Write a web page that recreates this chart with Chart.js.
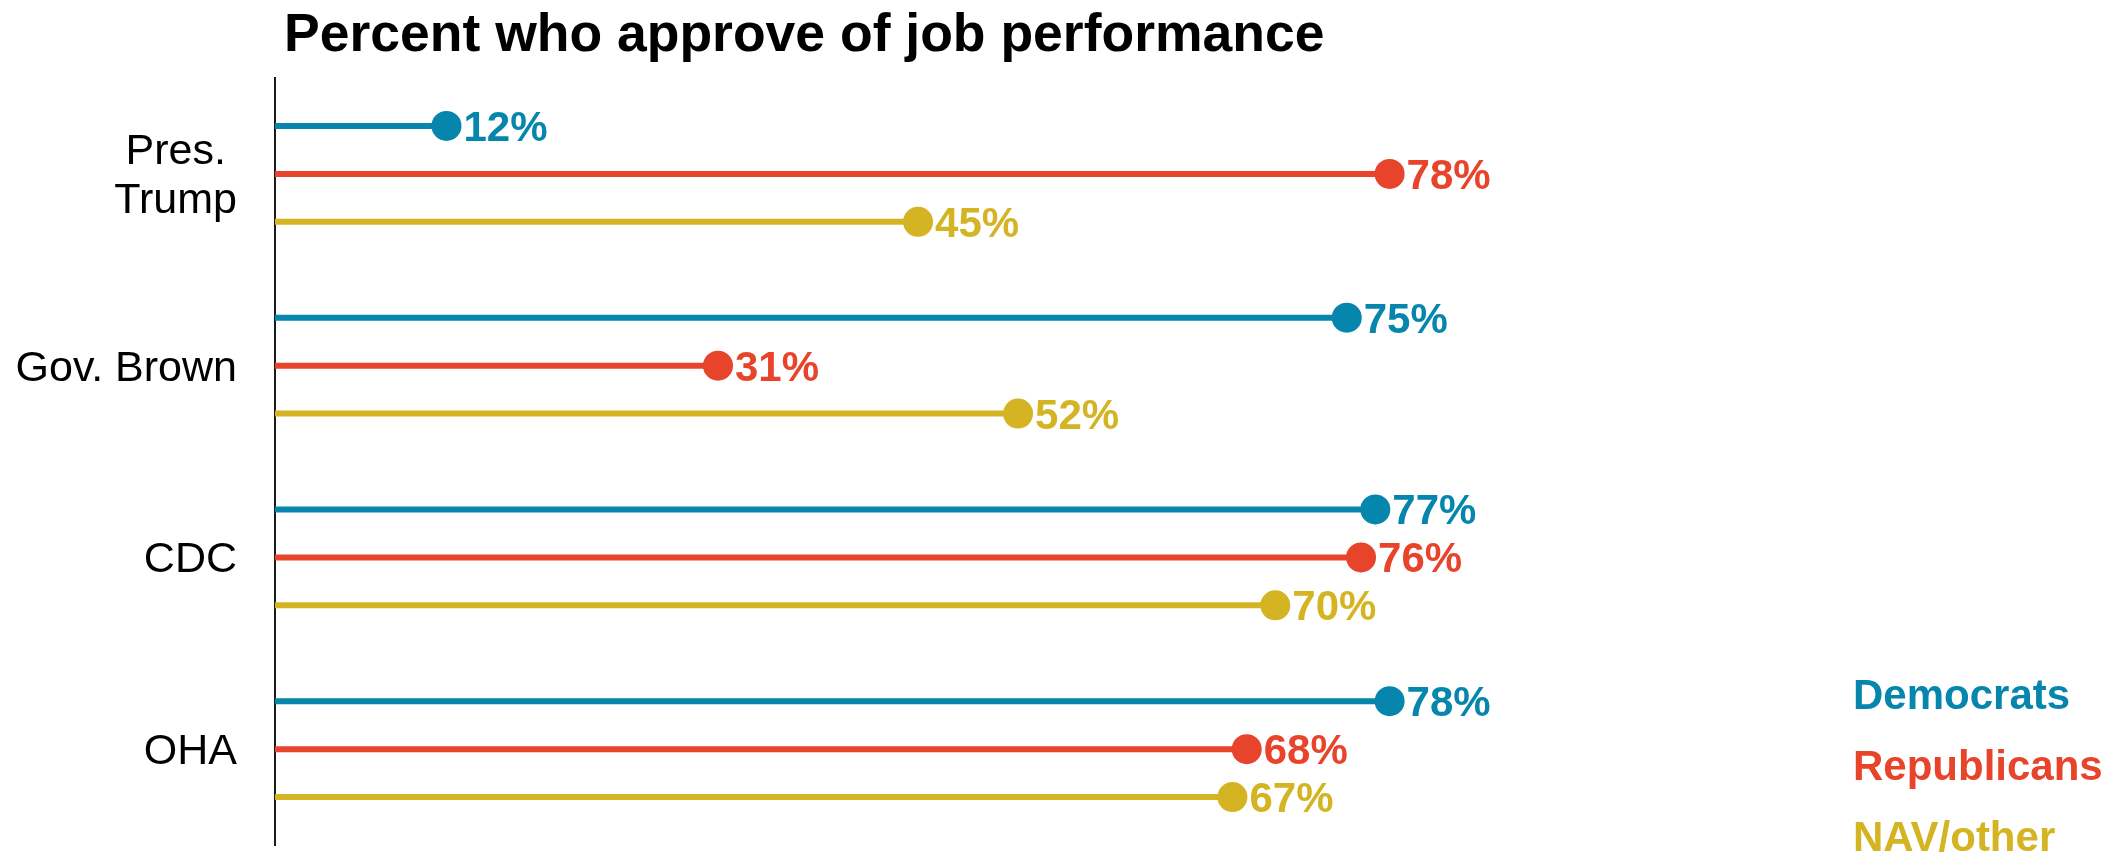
<!DOCTYPE html>
<html><head><meta charset="utf-8">
<script src="https://cdn.jsdelivr.net/npm/chart.js@4.4.1/dist/chart.umd.min.js"></script>
<style>html,body{margin:0;padding:0;background:#fff;overflow:hidden}</style>
</head><body>
<canvas id="c" width="2121" height="853" style="display:block;width:2121px;height:853px"></canvas>
<script>
// ---- data ----
const categories = [["Pres.", "Trump"], ["Gov. Brown"], ["CDC"], ["OHA"]];
const seriesNames = ["Democrats", "Republicans", "NAV/other"];
const democrats = [12, 75, 77, 78];
const republicans = [78, 31, 76, 68];
const navOther = [45, 52, 70, 67];
const seriesValues = [democrats, republicans, navOther];
const seriesColors = ["#0686ad", "#e8432b", "#d4b423"];
const titleText = "Percent who approve of job performance";

const FONT = '"Liberation Sans", Arial, Helvetica, sans-serif';

// one dataset per lollipop (stem from 0 to value, dot at value)
const datasets = [];
categories.forEach((cat, i) => {
  seriesValues.forEach((vals, s) => {
    const y = i * 4 + s;
    datasets.push({
      type: 'scatter',
      showLine: true,
      data: [{x: 0, y: y}, {x: vals[i], y: y}],
      borderColor: seriesColors[s],
      backgroundColor: seriesColors[s],
      pointBackgroundColor: seriesColors[s],
      pointBorderColor: seriesColors[s],
      borderWidth: 6,
      pointRadius: [0, 15],
      pointBorderWidth: 0,
      pointHoverRadius: [0, 15],
      clip: false,
      valueLabel: vals[i] + '%',
      seriesIndex: s
    });
  });
});

const decorPlugin = {
  id: 'decor',
  afterDatasetsDraw(chart) {
    const ctx = chart.ctx;
    const yScale = chart.scales.y;
    ctx.save();
    ctx.textBaseline = 'alphabetic';

    // value labels
    ctx.font = 'bold 42px ' + FONT;
    ctx.textAlign = 'left';
    chart.data.datasets.forEach((ds, di) => {
      const pt = chart.getDatasetMeta(di).data[1];
      ctx.fillStyle = seriesColors[ds.seriesIndex];
      ctx.fillText(ds.valueLabel, pt.x + 17, pt.y + 15);
    });

    // category labels: lines centred on each other, block right edge at 237
    ctx.font = '43px ' + FONT;
    ctx.fillStyle = '#000';
    ctx.textAlign = 'center';
    categories.forEach((lines, i) => {
      const cy = yScale.getPixelForValue(i * 4 + 1);
      const blockW = Math.max(...lines.map(l => ctx.measureText(l).width));
      const cx = 237 - blockW / 2;
      lines.forEach((l, k) => {
        const by = cy + 15 + (k - (lines.length - 1) / 2) * 49;
        ctx.fillText(l, cx, by);
      });
    });

    // title
    ctx.font = 'bold 53.5px ' + FONT;
    ctx.fillStyle = '#000';
    ctx.textAlign = 'left';
    ctx.fillText(titleText, 284, 51);

    // legend
    ctx.font = 'bold 42px ' + FONT;
    const legendY = [709, 780, 851];
    seriesNames.forEach((n, s) => {
      ctx.fillStyle = seriesColors[s];
      ctx.fillText(n, 1853, legendY[s]);
    });
    ctx.restore();
  }
};

new Chart(document.getElementById('c'), {
  type: 'scatter',
  data: { datasets },
  plugins: [decorPlugin],
  options: {
    responsive: false,
    devicePixelRatio: 1,
    animation: false,
    events: [],
    layout: { autoPadding: false, padding: { top: 78, bottom: 8, left: 0, right: 417 } },
    plugins: { legend: { display: false }, tooltip: { enabled: false }, title: { display: false } },
    scales: {
      x: { type: 'linear', min: 0, max: 100, display: false },
      y: {
        type: 'linear', min: -1, max: 15, reverse: true,
        grid: { display: false, drawTicks: false },
        border: { display: true, color: '#1a1a1a', width: 2 },
        ticks: { display: false },
        afterFit(scale) { scale.width = 275; }
      }
    }
  }
});
</script>
</body></html>
